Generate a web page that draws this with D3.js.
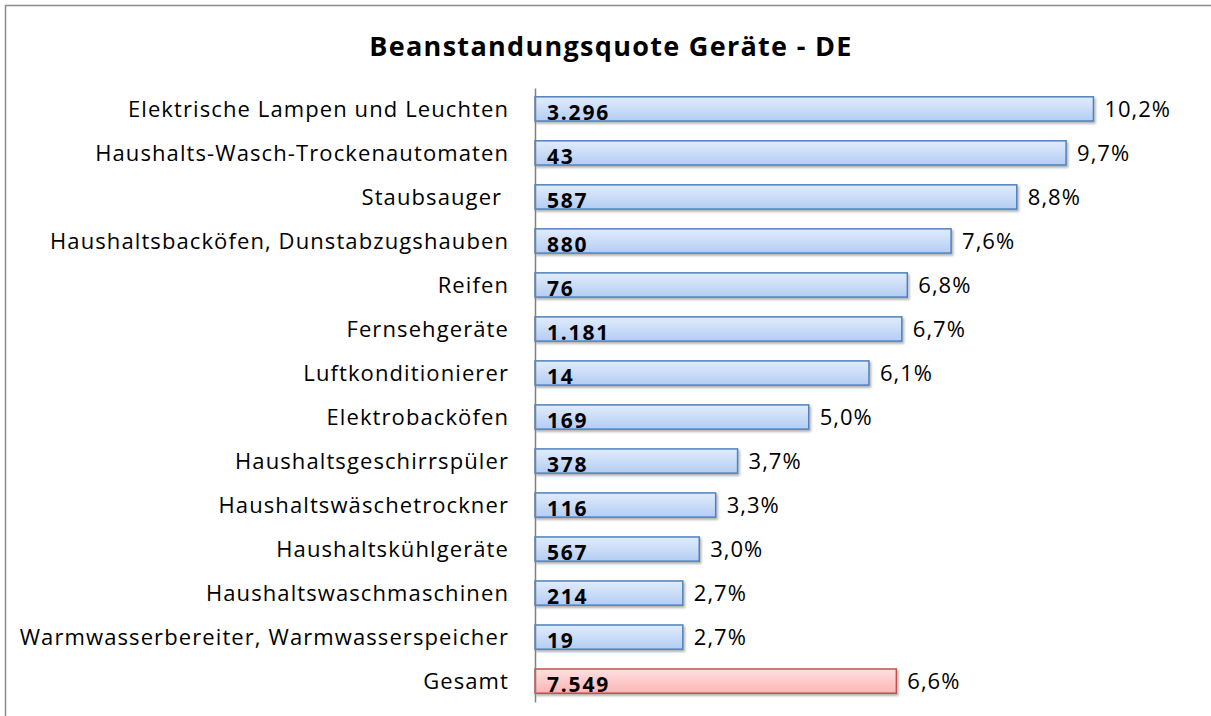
<!DOCTYPE html>
<html>
<head>
<meta charset="utf-8">
<script src="https://cdn.jsdelivr.net/npm/d3@7"></script>
<style>
  body { margin: 0; background: #fff; }
  svg { display: block; font-family: "Open Sans", sans-serif; }
</style>
</head>
<body>
<div id="chart"></div>
<script>
var width = 1211,
height = 716;

var categories = ['Elektrische Lampen und Leuchten', 'Haushalts-Wasch-Trockenautomaten', 'Staubsauger ',
  'Haushaltsbacköfen, Dunstabzugshauben', 'Reifen', 'Fernsehgeräte', 'Luftkonditionierer',
  'Elektrobacköfen', 'Haushaltsgeschirrspüler', 'Haushaltswäschetrockner', 'Haushaltskühlgeräte',
  'Haushaltswaschmaschinen', 'Warmwasserbereiter, Warmwasserspeicher', 'Gesamt'];
var quote = [10.2, 9.7, 8.8, 7.6, 6.8, 6.7, 6.1, 5.0, 3.7, 3.3, 3.0, 2.7, 2.7, 6.6];
var counts = ['3.296', '43', '587', '880', '76', '1.181', '14', '169', '378', '116', '567', '214', '19', '7.549'];

var rows = categories.map((c, i) => ({ name: c, value: quote[i], count: counts[i], total: c == 'Gesamt' }));

const svg = d3.select('#chart').
append('svg').
attr('width', width).
attr('height', height);

// frame
svg.append('rect').
attr('x', 5.5).
attr('y', 5.5).
attr('width', width + 20).
attr('height', height + 20).
attr('fill', 'white').
attr('stroke', '#8c8c8c').
attr('stroke-width', 1.5);

const defs = svg.append('defs');
const blue = defs.append('linearGradient').attr('id', 'gBlue').attr('x1', 0).attr('y1', 0).attr('x2', 0).attr('y2', 1);
blue.append('stop').attr('offset', '0%').attr('stop-color', '#e1ecfc');
blue.append('stop').attr('offset', '100%').attr('stop-color', '#b4cdf3');
const red = defs.append('linearGradient').attr('id', 'gRed').attr('x1', 0).attr('y1', 0).attr('x2', 0).attr('y2', 1);
red.append('stop').attr('offset', '0%').attr('stop-color', '#ffe0e0');
red.append('stop').attr('offset', '100%').attr('stop-color', '#fbb5b5');
const shadow = defs.append('filter').attr('id', 'shadow').attr('x', '-5%').attr('y', '-20%').attr('width', '110%').attr('height', '160%');
shadow.append('feDropShadow').attr('dx', 1.5).attr('dy', 2).attr('stdDeviation', 1.2).attr('flood-color', '#000').attr('flood-opacity', 0.3);

const xScale = d3.scaleLinear().
domain([0, 12]).
range([535, 1192]);

const yScale = d3.scaleBand().
domain(categories).
range([88, 702]).
paddingInner(0.45).
paddingOuter(0.2);

svg.append('text').
attr('x', 611).
attr('y', 56).
attr('text-anchor', 'middle').
attr('font-size', '27px').
attr('font-weight', 'bold').
attr('letter-spacing', '1.3px').
attr('fill', '#000').
text('Beanstandungsquote Geräte - DE');

svg.selectAll('rect.bar').
data(rows).
enter().
append('rect').
attr('class', 'bar').
attr('x', xScale(0)).
attr('y', d => yScale(d.name)).
attr('width', d => xScale(d.value) - xScale(0)).
attr('height', yScale.bandwidth()).
attr('fill', d => d.total ? 'url(#gRed)' : 'url(#gBlue)').
attr('stroke', d => d.total ? '#c0504d' : '#4f81bd').
attr('stroke-width', 1.5).
attr('filter', 'url(#shadow)');

const yAxis = d3.axisLeft(yScale).tickSize(0).tickPadding(26);

// category labels keep their trailing space (Staubsauger)
svg.append('g').
attr('transform', 'translate(' + xScale(0) + ',0)').
call(yAxis).
call(g => g.select('.domain').attr('stroke', '#808080').attr('stroke-width', 1.5)).
call(g => g.selectAll('text').attr('font-size', '22px').attr('letter-spacing', '1.1px').attr('fill', '#000').attr('dy', '0.36em').attr('font-family', '"Open Sans", sans-serif').style('white-space', 'pre'));

svg.selectAll('text.count').
data(rows).
enter().
append('text').
attr('class', 'count').
attr('x', xScale(0) + 12).
attr('y', d => yScale(d.name) + yScale.bandwidth() - 1).
attr('font-size', '21px').
attr('font-weight', 'bold').
attr('letter-spacing', '1.8px').
attr('fill', '#000').
text(d => d.count);

svg.selectAll('text.pct').
data(rows).
enter().
append('text').
attr('class', 'pct').
attr('x', d => xScale(d.value) + 11).
attr('y', d => yScale(d.name) + yScale.bandwidth() / 2 + 8).
attr('font-size', '22px').
attr('letter-spacing', '1px').
attr('fill', '#000').
text(d => d.value.toFixed(1).replace('.', ',') + '%');
</script>
</body>
</html>
